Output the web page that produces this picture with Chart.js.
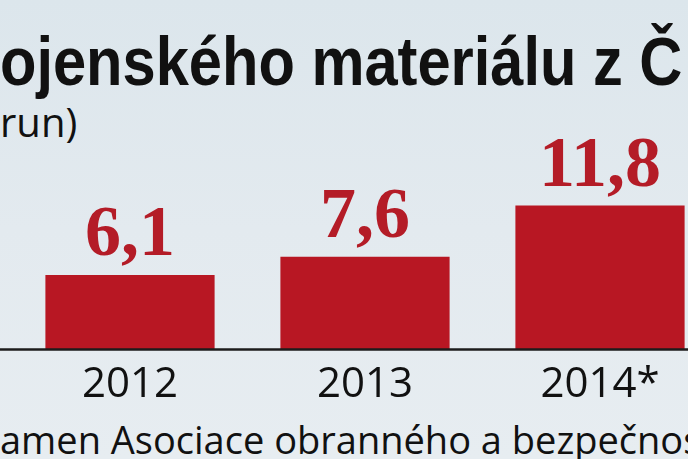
<!DOCTYPE html>
<html>
<head>
<meta charset="utf-8">
<script src="https://cdn.jsdelivr.net/npm/chart.js@4"></script>
<style>
  html, body { margin: 0; padding: 0; }
  body {
    width: 688px; height: 459px; overflow: hidden; position: relative;
    background: linear-gradient(180deg, #dce6ec 0%, #e3eaef 50%, #e7edf1 100%);
  }
  .txt { position: absolute; white-space: nowrap; line-height: 1; color: #111; }
  #title { font: bold 68px "Liberation Sans", sans-serif; left: 0; top: 22px; transform-origin: 0 0; }
  #sub { font: 40px "Open Sans", sans-serif; left: 0; top: 94px; }
  #foot { font: 38px "Open Sans", sans-serif; left: 0; top: 413px; }
  #wrap { position: absolute; left: 0; top: 0; width: 740px; height: 459px; }
</style>
</head>
<body>
<div id="title" class="txt">ojenského materiálu z Č</div>
<div id="sub" class="txt">run)</div>
<div id="foot" class="txt">amen Asociace obranného a bezpečnos</div>
<div id="wrap"><canvas id="exportChart"></canvas></div>
<script>
const years = ['2012', '2013', '2014*'];
const exportValues = [6.1, 7.6, 11.8];
const valueLabels = ['6,1', '7,6', '11,8'];

// squeeze the heading into a condensed look
const title = document.getElementById('title');
title.style.transform = 'scaleX(' + (682 / title.offsetWidth) + ')';

const barLabels = {
    id: 'barLabels',
    afterDatasetsDraw(chart) {
        const ctx = chart.ctx;
        ctx.save();
        ctx.font = 'bold 72px "Liberation Serif", serif';
        ctx.fillStyle = '#b41c27';
        ctx.textAlign = 'center';
        ctx.textBaseline = 'alphabetic';
        chart.getDatasetMeta(0).data.forEach((bar, i) => {
            ctx.fillText(valueLabels[i], bar.x, bar.y - 20);
        });
        // baseline across the whole picture
        const y0 = chart.scales.y.getPixelForValue(0);
        ctx.strokeStyle = '#1c1c1c';
        ctx.lineWidth = 2.5;
        ctx.beginPath();
        ctx.moveTo(0, y0);
        ctx.lineTo(chart.width, y0);
        ctx.stroke();
        ctx.restore();
    }
};

new Chart(document.getElementById('exportChart'), {
    type: 'bar',
    data: {
        labels: years,
        datasets: [{
            data: exportValues,
            backgroundColor: '#b81723',
            categoryPercentage: 1,
            barPercentage: 0.72
        }]
    },
    options: {
        responsive: true,
        maintainAspectRatio: false,
        animation: false,
        layout: { padding: { top: 105.5, left: 12.5, right: 22.5, bottom: 0 } },
        plugins: { legend: { display: false }, tooltip: { enabled: false } },
        scales: {
            x: {
                grid: { display: false, drawTicks: false },
                border: { display: false },
                ticks: { color: '#111', font: { family: '"Open Sans", sans-serif', size: 42 }, padding: 10 },
                afterFit(scale) { scale.height = 109.5; }
            },
            y: { display: false, min: 0, max: 20 }
        }
    },
    plugins: [barLabels]
});
</script>
</body>
</html>
